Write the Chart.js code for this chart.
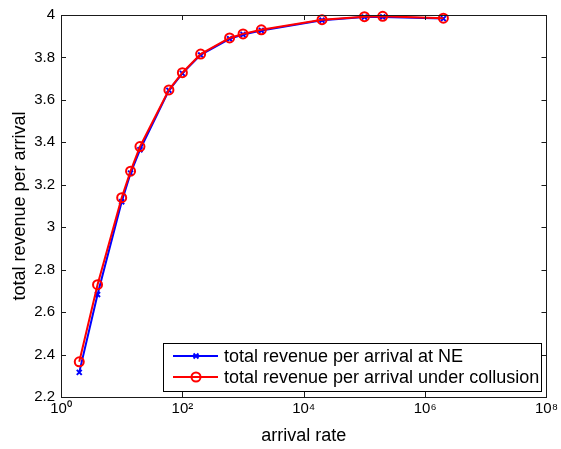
<!DOCTYPE html>
<html>
<head>
<meta charset="utf-8">
<script src="https://cdn.jsdelivr.net/npm/chart.js@4.4.1/dist/chart.umd.min.js"></script>
<style>
  html, body { margin: 0; padding: 0; background: #fff; }
  #wrap { width: 561px; height: 449px; }
</style>
</head>
<body>
<div id="wrap"><canvas id="myChart" width="561" height="449"></canvas></div>
<script>
// arrival rates (x, log scale)
var arrivalRates = [2, 4, 10, 14, 20, 60, 100, 200, 600, 1000, 2000, 20000, 100000, 200000, 2000000];
// total revenue per arrival at NE
var neRevenue = [2.316, 2.683, 3.12, 3.255, 3.365, 3.645, 3.725, 3.812, 3.888, 3.908, 3.927, 3.975, 3.99, 3.991, 3.983];
// total revenue per arrival under collusion
var collusionRevenue = [2.366, 2.729, 3.139, 3.264, 3.38, 3.647, 3.728, 3.816, 3.892, 3.911, 3.93, 3.978, 3.992, 3.994, 3.985];

var seriesLabels = ['total revenue per arrival at NE', 'total revenue per arrival under collusion'];
var xTickValues = [1, 100, 10000, 1000000, 100000000];
var xTickLabels = ['10\u2070', '10\u00b2', '10\u2074', '10\u2076', '10\u2078'];
var yTickValues = [2.2, 2.4, 2.6, 2.8, 3, 3.2, 3.4, 3.6, 3.8, 4];

var FONT = "'Liberation Sans', Arial, Helvetica, sans-serif";

function toPoints(xs, ys) {
  return xs.map(function (x, i) { return { x: x, y: ys[i] }; });
}

// matlab style box, inward ticks, legend inside the axes
var matlabBox = {
  id: 'matlabBox',
  afterDatasetsDraw: function (chart) {
    var ctx = chart.ctx, a = chart.chartArea;
    var xs = chart.scales.x, ys = chart.scales.y;
    var tl = 5;
    ctx.save();
    ctx.strokeStyle = '#1a1a1a';
    ctx.lineWidth = 1;
    ctx.strokeRect(Math.round(a.left) + 0.5, Math.round(a.top) + 0.5,
      Math.round(a.right - a.left), Math.round(a.bottom - a.top));
    ctx.beginPath();
    xTickValues.forEach(function (v) {
      var px = Math.round(xs.getPixelForValue(v)) + 0.5;
      ctx.moveTo(px, a.bottom); ctx.lineTo(px, a.bottom - tl);
      ctx.moveTo(px, a.top); ctx.lineTo(px, a.top + tl);
    });
    yTickValues.forEach(function (v) {
      var py = Math.round(ys.getPixelForValue(v)) + 0.5;
      ctx.moveTo(a.left, py); ctx.lineTo(a.left + tl, py);
      ctx.moveTo(a.right, py); ctx.lineTo(a.right - tl, py);
    });
    ctx.stroke();

    // legend
    var bx = 163, by = 343, bw = 378, bh = 48;
    ctx.fillStyle = '#fff';
    ctx.fillRect(bx, by, bw, bh);
    ctx.strokeStyle = '#000';
    ctx.strokeRect(bx + 0.5, by + 0.5, bw, bh);
    ctx.textBaseline = 'middle';
    chart.data.datasets.forEach(function (ds, i) {
      var ry = by + 13 + i * 21;
      ctx.strokeStyle = ds.borderColor;
      ctx.lineWidth = 2;
      ctx.beginPath();
      ctx.moveTo(bx + 10, ry); ctx.lineTo(bx + 55, ry);
      ctx.stroke();
      ctx.fillStyle = 'rgba(0,0,0,0)';
      Chart.helpers.drawPoint(ctx, {
        pointStyle: ds.pointStyle, radius: ds.pointRadius, borderWidth: ds.pointBorderWidth
      }, bx + 33, ry);
      ctx.fillStyle = '#000';
      ctx.font = '18px ' + FONT;
      ctx.fillText(ds.label, bx + 61, ry + 1);
    });
    ctx.restore();
  }
};

var ctx = document.getElementById('myChart');
var myChart = new Chart(ctx, {
  type: 'line',
  data: {
    datasets: [{
      label: seriesLabels[0],
      data: toPoints(arrivalRates, neRevenue),
      borderColor: '#0000ff',
      backgroundColor: 'transparent',
      borderWidth: 2,
      pointStyle: 'crossRot',
      pointRadius: 3.5,
      pointBorderWidth: 2,
      pointBorderColor: '#0000ff',
      order: 2,
      clip: false
    }, {
      label: seriesLabels[1],
      data: toPoints(arrivalRates, collusionRevenue),
      borderColor: '#ff0000',
      backgroundColor: 'transparent',
      borderWidth: 2,
      pointStyle: 'circle',
      pointRadius: 4.5,
      pointBorderWidth: 2,
      pointBorderColor: '#ff0000',
      pointBackgroundColor: 'transparent',
      order: 1,
      clip: false
    }]
  },
  options: {
    responsive: false,
    animation: false,
    layout: { padding: { top: 13, right: 13, left: 0, bottom: 0 } },
    scales: {
      x: {
        type: 'logarithmic',
        min: 1,
        max: 100000000,
        afterBuildTicks: function (s) { s.ticks = xTickValues.map(function (v) { return { value: v }; }); },
        afterFit: function (s) { s.height = 52; },
        grid: { display: false, drawTicks: false },
        border: { display: false },
        ticks: {
          padding: 3,
          color: '#000',
          font: { family: FONT, size: 15 },
          maxRotation: 0,
          callback: function (v) { return xTickLabels[xTickValues.indexOf(v)]; }
        },
        title: {
          display: true,
          text: 'arrival rate',
          color: '#000',
          font: { family: FONT, size: 18 },
          padding: { top: 0, bottom: 2 }
        }
      },
      y: {
        min: 2.2,
        max: 4,
        afterBuildTicks: function (s) { s.ticks = yTickValues.map(function (v) { return { value: v }; }); },
        afterFit: function (s) { s.width = 61; },
        grid: { display: false, drawTicks: false },
        border: { display: false },
        ticks: {
          padding: 6,
          color: '#000',
          font: { family: FONT, size: 15 },
          callback: function (v) { return String(Math.round(v * 10) / 10); }
        },
        title: {
          display: true,
          text: 'total revenue per arrival',
          color: '#000',
          font: { family: FONT, size: 18 },
          padding: { top: 9, bottom: 0 }
        }
      }
    },
    plugins: {
      legend: { display: false },
      tooltip: { enabled: false }
    }
  },
  plugins: [matlabBox]
});
</script>
</body>
</html>
